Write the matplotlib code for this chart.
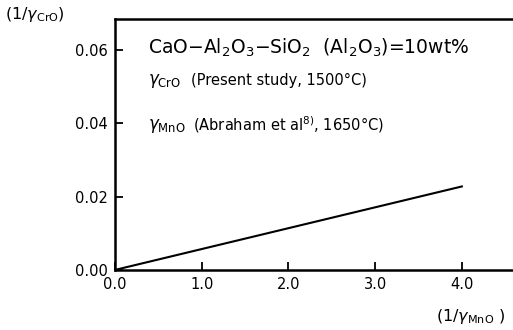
import matplotlib
matplotlib.use("Agg")
import matplotlib.pyplot as plt
import numpy as np

# Data
x_vals = [0.0, 4.0]
y_vals = [0.0, 0.0228]
x_ticks = [0.0, 1.0, 2.0, 3.0, 4.0]
x_ticklabels = ["0.0", "1.0", "2.0", "3.0", "4.0"]
y_ticks = [0.00, 0.02, 0.04, 0.06]
y_ticklabels = ["0.00", "0.02", "0.04", "0.06"]

plt.rcParams['font.family'] = ['DejaVu Sans']
plt.rcParams['mathtext.fontset'] = 'dejavusans'

fig = plt.figure(figsize=(5.13, 3.30), dpi=100)
ax = fig.add_axes([0.224, 0.182, 0.776, 0.760])

ax.plot(x_vals, y_vals, color='black', lw=1.5)
ax.set_xlim(0, 4.59)
ax.set_ylim(0, 0.0685)

ax.set_xticks(x_ticks)
ax.set_xticklabels(x_ticklabels)
ax.set_yticks(y_ticks)
ax.set_yticklabels(y_ticklabels)
ax.tick_params(direction='in', length=6, width=1.3, labelsize=10.5, pad=5)

for s in ['left', 'bottom', 'top']:
    ax.spines[s].set_linewidth(1.8)
ax.spines['right'].set_visible(False)

ax.text(0.083, 0.884, r"CaO$-$Al$_2$O$_3$$-$SiO$_2$  (Al$_2$O$_3$)=10wt%",
        transform=ax.transAxes, fontsize=13.5, va='center', ha='left')
ax.text(0.083, 0.752, r"$\gamma_{\mathrm{CrO}}$", transform=ax.transAxes,
        fontsize=12, va='center', ha='left')
ax.text(0.19, 0.757, "(Present study, 1500\u00b0C)", transform=ax.transAxes,
        fontsize=10.5, va='center', ha='left')
ax.text(0.083, 0.573, r"$\gamma_{\mathrm{MnO}}$", transform=ax.transAxes,
        fontsize=12, va='center', ha='left')
ax.text(0.195, 0.578, r"(Abraham et al$^{8)}$, 1650$\degree$C)", transform=ax.transAxes,
        fontsize=10.5, va='center', ha='left')

fig.text(0.01, 0.955, r"(1/$\gamma_{\mathrm{CrO}}$)", fontsize=11.5, va='center', ha='left')
fig.text(0.985, 0.04, r"(1/$\gamma_{\mathrm{MnO}}$ )", fontsize=11.5, va='center', ha='right')

fig.savefig("out.png", dpi=100)
